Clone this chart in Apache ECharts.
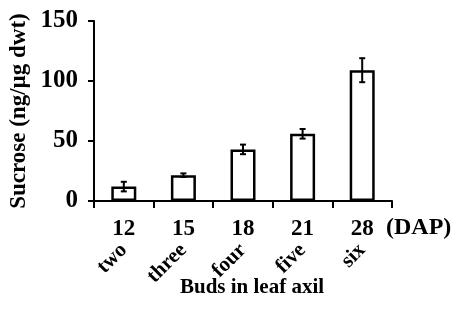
<!DOCTYPE html>
<html>
<head>
<meta charset="utf-8">
<script src="https://cdn.jsdelivr.net/npm/echarts@6/dist/echarts.min.js"></script>
<style>
	html, body { margin: 0; padding: 0; background: #fff; }
	#chart { width: 457px; height: 324px; }
</style>
</head>
<body>
<div id="chart"></div>
<script>
// days after planting and bud stage for each bar
const dap = ['12', '15', '18', '21', '28'];
const buds = ['two', 'three', 'four', 'five', 'six'];
const sucrose = [12, 21.5, 43, 56, 109];
const sucroseErr = [4, 1.5, 4, 4, 10];
const yTicks = [0, 50, 100, 150];

const font = 'Liberation Serif';
let myChart = echarts.init(document.getElementById('chart'));

let errData = sucrose.map((v, i) => [i, v - sucroseErr[i], v + sucroseErr[i]]);

let option = {
	animation: false,
	grid: { left: 94, right: 65, top: 21, bottom: 123 },
	xAxis: [
		{
			type: 'category',
			data: dap,
			axisLine: { lineStyle: { color: '#000', width: 2 } },
			axisTick: { show: true, length: 7, lineStyle: { color: '#000', width: 2 } },
			axisLabel: { color: '#000', fontFamily: font, fontWeight: 'bold', fontSize: 23, margin: 17 }
		},
		{
			type: 'category',
			data: buds,
			position: 'bottom',
			offset: 38,
			axisLine: { show: false },
			axisTick: { show: false },
			axisLabel: { color: '#000', fontFamily: font, fontWeight: 'bold', fontSize: 21, rotate: 45, margin: 8 },
			name: 'Buds in leaf axil',
			nameLocation: 'middle',
			nameGap: 38,
			nameMoveOverlap: false,
			nameTextStyle: { color: '#000', fontFamily: font, fontWeight: 'bold', fontSize: 21, padding: [0, 0, 0, 18] }
		}
	],
	yAxis: {
		type: 'value',
		min: 0,
		max: 150,
		interval: 50,
		splitLine: { show: false },
		axisLine: { show: true, lineStyle: { color: '#000', width: 2 } },
		axisTick: { show: true, length: 6, lineStyle: { color: '#000', width: 2 } },
		axisLabel: { color: '#000', fontFamily: font, fontWeight: 'bold', fontSize: 25, margin: 16,
			customValues: yTicks },
		name: 'Sucrose (ng/µg dwt)',
		nameLocation: 'middle',
		nameGap: 63,
		nameMoveOverlap: false,
		nameTextStyle: { color: '#000', fontFamily: font, fontWeight: 'bold', fontSize: 23 }
	},
	graphic: [
		{
			type: 'text',
			left: 386,
			top: 216,
			style: { text: '(DAP)', fill: '#000', font: 'bold 24px "Liberation Serif"' }
		}
	],
	series: [
		{
			type: 'bar',
			data: sucrose,
			barWidth: 25,
			itemStyle: { color: '#fff', borderColor: '#000', borderWidth: 2.5 }
		},
		{
			type: 'custom',
			data: errData,
			z: 10,
			renderItem: function(params, api) {
				let lo = api.coord([api.value(0), api.value(1)]);
				let hi = api.coord([api.value(0), api.value(2)]);
				let hw = 3;
				let style = { stroke: '#000', lineWidth: 2 };
				return {
					type: 'group',
					children: [
						{ type: 'line', shape: { x1: lo[0], y1: lo[1], x2: hi[0], y2: hi[1] }, style: style },
						{ type: 'line', shape: { x1: lo[0] - hw, y1: lo[1], x2: lo[0] + hw, y2: lo[1] }, style: style },
						{ type: 'line', shape: { x1: hi[0] - hw, y1: hi[1], x2: hi[0] + hw, y2: hi[1] }, style: style }
					]
				};
			}
		}
	]
};
myChart.setOption(option);
</script>
</body>
</html>
